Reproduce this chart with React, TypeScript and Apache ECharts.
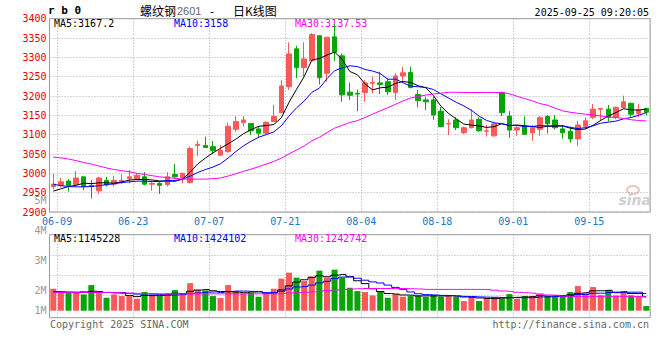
import { useEffect, useRef } from 'react';
import * as echarts from 'echarts';

// ---------- data ----------
const dates = [
  '06-06', '06-09', '06-10', '06-11', '06-12', '06-13', '06-16', '06-17', '06-18', '06-19', '06-20',
  '06-23', '06-24', '06-25', '06-26', '06-27', '06-30', '07-01', '07-02', '07-03', '07-04',
  '07-07', '07-08', '07-09', '07-10', '07-11', '07-14', '07-15', '07-16', '07-17', '07-18',
  '07-21', '07-22', '07-23', '07-24', '07-25', '07-28', '07-29', '07-30', '07-31', '08-01',
  '08-04', '08-05', '08-06', '08-07', '08-08', '08-11', '08-12', '08-13', '08-14', '08-15',
  '08-18', '08-19', '08-20', '08-21', '08-22', '08-25', '08-26', '08-27', '08-28', '08-29',
  '09-01', '09-02', '09-03', '09-04', '09-05', '09-08', '09-09', '09-10', '09-11', '09-12',
  '09-15', '09-16', '09-17', '09-18', '09-19', '09-22', '09-23', '09-24'
];
const dateLabels = ['06-09', '06-23', '07-07', '07-21', '08-04', '08-18', '09-01', '09-15'];

const opens = [
  2966, 2969, 2980, 2971, 2991, 2969, 2955, 2982, 2972, 2978,
  2986, 2986, 2991, 2972, 2974, 2971, 2997, 2988, 2976, 3072,
  3072, 3069, 3047, 3056, 3114, 3131, 3129, 3115, 3104, 3134,
  3157, 3224, 3322, 3274, 3291, 3356, 3259, 3353, 3304, 3210,
  3207, 3209, 3233, 3234, 3237, 3209, 3252, 3261, 3204, 3190,
  3190, 3161, 3128, 3138, 3105, 3118, 3140, 3109, 3097, 3209,
  3148, 3112, 3122, 3105, 3114, 3147, 3138, 3115, 3109, 3089,
  3122, 3145, 3166, 3166, 3145, 3170, 3181, 3155, 3168
];
const closes = [
  2972, 2978, 2969, 2988, 2966, 2966, 2988, 2970, 2982, 2982,
  2991, 2995, 2972, 2974, 2969, 2991, 2991, 3000, 3064, 3075,
  3067, 3059, 3059, 3122, 3134, 3138, 3110, 3104, 3132, 3147,
  3226, 3309, 3274, 3296, 3359, 3248, 3352, 3313, 3203, 3202,
  3205, 3234, 3235, 3230, 3211, 3252, 3260, 3222, 3188, 3185,
  3151, 3121, 3129, 3118, 3118, 3138, 3110, 3110, 3128, 3157,
  3112, 3118, 3101, 3118, 3144, 3128, 3118, 3105, 3089, 3125,
  3136, 3166, 3168, 3145, 3171, 3185, 3153, 3164, 3158
];
const lows = [
  2959, 2964, 2953, 2967, 2957, 2935, 2947, 2966, 2966, 2972,
  2974, 2983, 2969, 2955, 2947, 2966, 2986, 2974, 2974, 3045,
  3066, 3050, 3045, 3054, 3108, 3121, 3099, 3092, 3101, 3133,
  3155, 3216, 3246, 3250, 3291, 3230, 3237, 3291, 3185, 3190,
  3161, 3185, 3207, 3205, 3203, 3190, 3237, 3220, 3171, 3164,
  3138, 3119, 3099, 3112, 3102, 3116, 3108, 3095, 3095, 3148,
  3092, 3097, 3101, 3084, 3097, 3103, 3114, 3090, 3079, 3071,
  3114, 3140, 3136, 3134, 3140, 3167, 3147, 3145, 3151
];
const highs = [
  2998, 2988, 2985, 3006, 2991, 2983, 2991, 2991, 2994, 2997,
  3009, 3000, 3003, 2978, 2978, 3003, 3024, 3002, 3069, 3084,
  3095, 3084, 3073, 3131, 3148, 3148, 3130, 3122, 3135, 3177,
  3241, 3339, 3330, 3339, 3363, 3356, 3352, 3386, 3310, 3235,
  3217, 3241, 3250, 3263, 3246, 3259, 3276, 3276, 3216, 3198,
  3198, 3172, 3140, 3145, 3121, 3166, 3145, 3125, 3130, 3211,
  3161, 3125, 3147, 3125, 3148, 3151, 3151, 3125, 3121, 3136,
  3145, 3179, 3168, 3177, 3172, 3201, 3183, 3179, 3168
];

const ma5 = [
  2954, 2960, 2966, 2969, 2974.6, 2973.4, 2975.4, 2975.6, 2974.4, 2977.6,
  2982.6, 2984, 2984.4, 2982.8, 2980.2, 2980.2, 2979.4, 2985, 3003, 3024.2,
  3039.4, 3053, 3064.8, 3076.4, 3088.2, 3102.4, 3112.6, 3121.6, 3123.6, 3126.2,
  3143.8, 3183.6, 3217.6, 3250.4, 3292.8, 3297.2, 3305.8, 3313.6, 3295, 3263.6,
  3255, 3231.4, 3215.8, 3221.2, 3223, 3232.4, 3237.6, 3235, 3226.6, 3221.4,
  3201.2, 3173.4, 3154.8, 3140.8, 3127.4, 3124.8, 3122.6, 3118.8, 3120.8, 3128.6,
  3123.4, 3125, 3123.2, 3121.2, 3118.6, 3121.8, 3121.8, 3122.6, 3116.8, 3113,
  3114.6, 3124.2, 3136.8, 3148, 3157.2, 3167, 3164.4, 3163.6, 3166.2
];
const ma10 = [
  2972, 2968, 2966, 2965, 2965, 2966, 2968, 2971, 2973, 2976.1,
  2978, 2979.7, 2980, 2978.6, 2978.9, 2981.4, 2981.7, 2984.7, 2992.9, 3002.2,
  3009.8, 3016.2, 3024.9, 3039.7, 3056.2, 3070.9, 3082.8, 3093.2, 3100, 3107.2,
  3123.1, 3148.1, 3169.6, 3187, 3209.5, 3220.5, 3244.7, 3265.6, 3272.7, 3278.2,
  3276.1, 3268.6, 3264.7, 3258.1, 3243.3, 3243.7, 3234.5, 3225.4, 3223.9, 3222.2,
  3216.8, 3205.5, 3194.9, 3183.7, 3174.4, 3163, 3148, 3136.8, 3130.8, 3128,
  3124.1, 3123.8, 3121, 3121, 3123.6, 3122.6, 3123.4, 3122.9, 3119, 3115.8,
  3118.2, 3123, 3129.7, 3132.4, 3135.1, 3140.8, 3144.3, 3150.2, 3157.1
];
const ma30 = [
  3042, 3040, 3037, 3033, 3028, 3024, 3019, 3014, 3010, 3007,
  3004, 3000, 2997, 2994, 2991, 2989, 2987, 2985, 2985, 2985,
  2985, 2986, 2988, 2993, 2999, 3005, 3011, 3017, 3024, 3030.8,
  3039.3, 3050.3, 3060.5, 3070.8, 3083.9, 3093.3, 3105.4, 3116.8, 3124.2, 3131.5,
  3136.3, 3144.3, 3153.1, 3161.6, 3169.7, 3178.4, 3187.3, 3194.7, 3198.9, 3202.5,
  3205.3, 3207.4, 3209.7, 3209.6, 3209.1, 3209.1, 3209.1, 3209.3, 3209.1, 3209.5,
  3205.7, 3199.3, 3193.5, 3187.6, 3180.4, 3176.4, 3168.6, 3161.7, 3157.9, 3155.3,
  3153, 3150.8, 3148.5, 3145.7, 3144.4, 3142.1, 3138.6, 3136.6, 3135.6
];

// volume, millions of lots
const volumes = [
  1.98, 1.74, 1.62, 1.62, 1.47, 2.31, 1.62, 1.17, 1.47, 1.32,
  1.32, 1.08, 1.68, 1.41, 1.32, 1.59, 1.86, 1.47, 2.49, 1.89,
  1.83, 1.32, 1.14, 2.31, 1.77, 1.55, 1.62, 1.26, 1.62, 1.98,
  2.89, 3.43, 2.98, 2.68, 3.07, 3.61, 2.98, 3.70, 2.98, 2.07,
  1.77, 1.68, 1.38, 1.77, 1.17, 1.50, 1.26, 1.32, 1.38, 1.26,
  1.41, 1.26, 1.41, 1.26, 0.87, 1.32, 0.87, 1.17, 1.23, 1.08,
  1.50, 1.08, 1.32, 1.32, 1.53, 1.32, 1.26, 1.38, 1.68, 2.22,
  1.56, 2.13, 1.41, 1.86, 1.38, 1.74, 1.38, 1.32, 0.42
];
const volMa5 = [
  1.71, 1.68, 1.65, 1.62, 1.69, 1.75, 1.73, 1.64, 1.61, 1.58,
  1.38, 1.27, 1.37, 1.36, 1.36, 1.42, 1.57, 1.53, 1.75, 1.86,
  1.91, 1.80, 1.73, 1.70, 1.67, 1.62, 1.68, 1.70, 1.56, 1.61,
  1.87, 2.24, 2.58, 2.79, 3.01, 3.15, 3.06, 3.21, 3.27, 3.07,
  2.70, 2.44, 1.98, 1.73, 1.55, 1.50, 1.42, 1.40, 1.33, 1.34,
  1.33, 1.33, 1.34, 1.32, 1.24, 1.22, 1.15, 1.10, 1.09, 1.13,
  1.17, 1.21, 1.24, 1.26, 1.35, 1.31, 1.35, 1.36, 1.43, 1.57,
  1.62, 1.79, 1.80, 1.84, 1.67, 1.70, 1.55, 1.54, 1.25
];
const volMa10 = [
  1.70, 1.69, 1.68, 1.67, 1.66, 1.66, 1.65, 1.64, 1.63, 1.64,
  1.57, 1.50, 1.51, 1.49, 1.47, 1.40, 1.42, 1.45, 1.56, 1.61,
  1.67, 1.69, 1.63, 1.73, 1.77, 1.77, 1.74, 1.72, 1.63, 1.64,
  1.75, 1.96, 2.14, 2.18, 2.31, 2.51, 2.65, 2.90, 3.03, 3.04,
  2.93, 2.75, 2.60, 2.50, 2.31, 2.10, 1.93, 1.69, 1.53, 1.45,
  1.42, 1.38, 1.37, 1.33, 1.29, 1.28, 1.24, 1.22, 1.21, 1.19,
  1.20, 1.18, 1.17, 1.18, 1.24, 1.24, 1.28, 1.30, 1.35, 1.46,
  1.47, 1.57, 1.58, 1.64, 1.62, 1.66, 1.67, 1.67, 1.55
];
const volMa30 = [
  1.65, 1.65, 1.65, 1.65, 1.65, 1.65, 1.65, 1.65, 1.65, 1.60,
  1.58, 1.56, 1.55, 1.54, 1.52, 1.52, 1.52, 1.52, 1.52, 1.52,
  1.52, 1.52, 1.52, 1.52, 1.52, 1.52, 1.52, 1.52, 1.52, 1.52,
  1.55, 1.60, 1.63, 1.66, 1.70, 1.75, 1.82, 1.88, 1.92, 1.95,
  1.98, 2.00, 2.00, 2.00, 2.00, 2.00, 2.00, 1.98, 1.96, 1.92,
  1.92, 1.92, 1.92, 1.92, 1.92, 1.92, 1.92, 1.92, 1.85, 1.78,
  1.74, 1.66, 1.62, 1.58, 1.50, 1.42, 1.40, 1.32, 1.27, 1.27,
  1.27, 1.27, 1.27, 1.27, 1.27, 1.27, 1.27, 1.27, 1.24
];
const volTickLabels = ['1M', '2M', '3M', '4M', '5M'];

const priceLegend = ['MA5:3167.2', 'MA10:3158', 'MA30:3137.53'];
const volLegend = ['MA5:1145228', 'MA10:1424102', 'MA30:1242742'];
const titleParts = ['螺纹钢', '2601', '-', '日K线图'];
const symbolText = 'r b 0';
const timeText = '2025-09-25 09:20:05';
const copyrightText = 'Copyright 2025 SINA.COM';
const urlText = 'http://finance.sina.com.cn';

// ---------- styles ----------
const RED = '#f85a5a';
const GREEN = '#08a408';
const MONO = '"DejaVu Sans Mono", "Liberation Mono", monospace';
const CJK = '"Noto Sans CJK SC", sans-serif';
const GRID_LINE = { color: '#aaaaaa', width: 1, type: [1, 2] as any };
const BORDER = '#9a9a9a';
const LEFT = 49.5;
const WIDTH = 600.6;

export default function App() {
  const ref = useRef<HTMLDivElement>(null);

  useEffect(() => {
    if (!ref.current) return;
    const chart = echarts.init(ref.current, null, { renderer: 'svg' });
    const gridIdx = new Set(dateLabels.map((d) => dates.indexOf(d)));
    const showIdx = (i: number) => gridIdx.has(i);

    const candleData = dates.map((_, i) => [opens[i], closes[i], lows[i], highs[i]]);
    const volData = volumes.map((v, i) => ({
      value: v,
      itemStyle: { color: closes[i] >= opens[i] ? RED : GREEN },
    }));

    const legendX = [54, 174, 295];
    const legendColors = ['#000000', '#0000ff', '#ff00ff'];
    const txt = (x: number, y: number, text: string, fill: string, font: string, align = 'left') => ({
      type: 'text',
      x,
      y,
      silent: true,
      style: {
        text,
        fill,
        font,
        align,
        verticalAlign: 'middle',
        textAlign: align,
        textVerticalAlign: 'middle',
      },
    });

    const graphics: any[] = [
      txt(48, 10.5, symbolText, '#000', `bold 11px ${MONO}`),
      txt(140, 10, titleParts[0], '#000', `12px ${CJK}`),
      txt(177, 10.5, titleParts[1], '#666', `11px "Liberation Sans", sans-serif`),
      txt(210, 10, titleParts[2], '#000', `12px ${CJK}`),
      txt(233, 10, titleParts[3], '#000', `12px ${CJK}`),
      txt(649, 12.5, timeText, '#000', `10px ${MONO}`, 'right'),
      ...priceLegend.map((t, i) => txt(legendX[i], 23.5, t, legendColors[i], `10px ${MONO}`)),
      ...volLegend.map((t, i) => txt(legendX[i], 238.5, t, legendColors[i], `10px ${MONO}`)),
      txt(50, 324, copyrightText, '#666', `10px ${MONO}`),
      txt(649, 324, urlText, '#666', `10px ${MONO}`, 'right'),
      {
        type: 'ellipse',
        silent: true,
        shape: { cx: 633, cy: 190, rx: 6, ry: 4 },
        style: { fill: 'none', stroke: '#efc4c4', lineWidth: 2 },
      },
      txt(651, 200, 'sina', '#cfcfcf', `italic bold 14px "DejaVu Sans", sans-serif`, 'right'),
    ];

    const option: any = {
      animation: false,
      backgroundColor: '#ffffff',
      grid: [
        { left: LEFT, width: WIDTH, top: 18.7, height: 193.3, show: true, borderColor: BORDER, borderWidth: 1, backgroundColor: 'transparent' },
        { left: LEFT, width: WIDTH, top: 234.7, height: 83, show: true, borderColor: BORDER, borderWidth: 1, backgroundColor: 'transparent' },
        { left: LEFT, width: WIDTH, top: 235.3, height: 80 },
        { left: LEFT, width: WIDTH, top: 200.7, height: 120 },
      ],
      xAxis: [
        {
          type: 'category', gridIndex: 0, data: dates, boundaryGap: true,
          axisLine: { show: false }, axisTick: { show: false },
          axisLabel: {
            interval: showIdx, color: '#1478cf', fontFamily: MONO, fontSize: 10,
            margin: 4, padding: [0, 7.6, 0, 0],
          },
          splitLine: { show: true, interval: showIdx, lineStyle: GRID_LINE },
        },
        {
          type: 'category', gridIndex: 1, data: dates, boundaryGap: true,
          axisLine: { show: false }, axisTick: { show: false }, axisLabel: { show: false },
          splitLine: { show: true, interval: showIdx, lineStyle: GRID_LINE },
        },
        { type: 'value', gridIndex: 2, show: false, min: 0, max: 1 },
        { type: 'value', gridIndex: 3, show: false, min: 0, max: 1 },
      ],
      yAxis: [
        {
          type: 'value', gridIndex: 0, min: 2900, max: 3400, interval: 50, scale: true,
          axisLine: { show: false }, axisTick: { show: false },
          axisLabel: {
            color: '#e60000', fontFamily: MONO, fontSize: 10, margin: 3, padding: [0, 0, 3, 0],
            formatter: (v: number) => String(v),
          },
          splitLine: { show: true, lineStyle: GRID_LINE },
        },
        {
          type: 'value', gridIndex: 1, min: -0.631, max: 6.853,
          axisLine: { show: false }, axisTick: { show: false }, axisLabel: { show: false },
          splitLine: { show: false },
        },
        {
          type: 'value', gridIndex: 2, min: 0, max: 4, interval: 1,
          axisLine: { show: false }, axisTick: { show: false }, axisLabel: { show: false },
          splitLine: { show: true, showMinLine: false, showMaxLine: false, lineStyle: GRID_LINE },
        },
        {
          type: 'value', gridIndex: 3, min: 1, max: 5, interval: 1,
          axisLine: { show: false }, axisTick: { show: false }, splitLine: { show: false },
          axisLabel: {
            margin: 3,
            formatter: (v: number) => {
              const t = volTickLabels[Math.round(v) - 1] || '';
              return Math.round(v) === 1 ? `{lo|${t}}` : `{n|${t}}`;
            },
            rich: {
              n: { color: '#999999', fontFamily: MONO, fontSize: 10, padding: [0, 0, 1, 0] },
              lo: { color: '#999999', fontFamily: MONO, fontSize: 10, padding: [0, 0, 21, 0] },
            },
          },
        },
      ],
      series: [
        {
          type: 'candlestick', xAxisIndex: 0, yAxisIndex: 0, data: candleData, barWidth: 5,
          itemStyle: { color: RED, color0: GREEN, borderColor: RED, borderColor0: GREEN, borderWidth: 1 },
          silent: true,
        },
        { type: 'line', xAxisIndex: 0, yAxisIndex: 0, data: ma5, symbol: 'none', silent: true, lineStyle: { color: '#000', width: 1 } },
        { type: 'line', xAxisIndex: 0, yAxisIndex: 0, data: ma10, symbol: 'none', silent: true, lineStyle: { color: '#0000ff', width: 1 } },
        { type: 'line', xAxisIndex: 0, yAxisIndex: 0, data: ma30, symbol: 'none', silent: true, lineStyle: { color: '#ff00ff', width: 1 } },
        { type: 'bar', xAxisIndex: 1, yAxisIndex: 1, data: volData, barWidth: 6, silent: true },
        { type: 'line', xAxisIndex: 1, yAxisIndex: 1, data: volMa5, step: 'middle', symbol: 'none', silent: true, lineStyle: { color: '#000', width: 1 } },
        { type: 'line', xAxisIndex: 1, yAxisIndex: 1, data: volMa10, step: 'middle', symbol: 'none', silent: true, lineStyle: { color: '#0000ff', width: 1 } },
        { type: 'line', xAxisIndex: 1, yAxisIndex: 1, data: volMa30, step: 'middle', symbol: 'none', silent: true, lineStyle: { color: '#ff00ff', width: 1 } },
      ],
      graphic: { elements: graphics },
    };

    chart.setOption(option);
    return () => chart.dispose();
  }, []);

  return (
    <div
      ref={ref}
      style={{ position: 'fixed', left: 0, top: 0, width: 660, height: 360, background: '#fff' }}
    />
  );
}
